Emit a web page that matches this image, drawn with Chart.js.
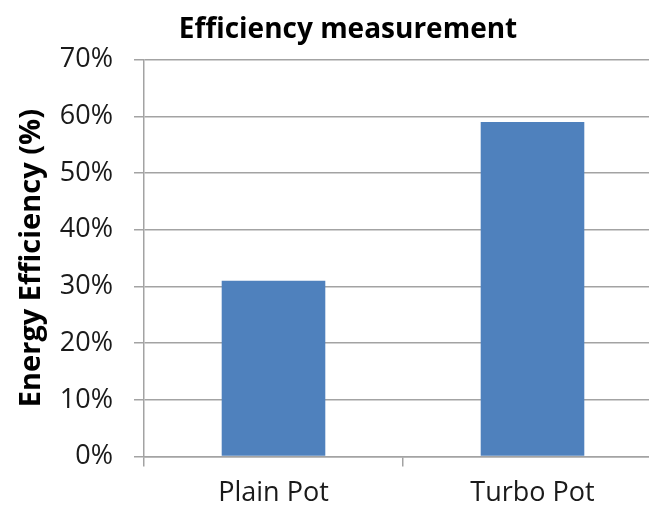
<!DOCTYPE html>
<html>
<head>
<meta charset="utf-8">
<script src="https://cdn.jsdelivr.net/npm/chart.js@4/dist/chart.umd.min.js"></script>
<style>
  html, body { margin: 0; padding: 0; background: #fff; overflow: hidden; }
  /* a bit bigger than the window: the original is cropped on the right and bottom */
  #wrap { width: 712px; height: 521px; }
</style>
</head>
<body>
<div id="wrap"><canvas id="chart"></canvas></div>
<script>
const categories = ["Plain Pot", "Turbo Pot"];
const efficiency = [31, 59];
const yTicks = [0, 10, 20, 30, 40, 50, 60, 70];

const gridColor = "#a3a3a3";

new Chart(document.getElementById("chart"), {
  type: "bar",
  data: {
    labels: categories,
    datasets: [
      {
        label: "Energy Efficiency",
        data: efficiency,
        backgroundColor: "#4f81bd",
        borderWidth: 0,
        barPercentage: 0.4,
        categoryPercentage: 1.0,
      },
    ],
  },
  options: {
    responsive: true,
    maintainAspectRatio: false,
    animation: false,
    layout: { padding: { left: 34, right: 50, top: 0, bottom: 0 } },
    scales: {
      x: {
        grid: {
          display: true,
          drawOnChartArea: false, // only the little tick marks below the axis
          drawTicks: true,
          tickLength: 10,
          color: gridColor,
          lineWidth: 1.5,
          offset: true,
        },
        border: { display: true, color: gridColor, width: 1.5 },
        ticks: {
          color: "#1a1a1a",
          font: { family: "Open Sans", size: 27 },
          padding: 11,
        },
      },
      y: {
        min: 0,
        max: 70,
        afterBuildTicks: (axis) => {
          axis.ticks = yTicks.map((v) => ({ value: v }));
        },
        grid: {
          color: gridColor,
          lineWidth: 1.5,
          tickLength: 10,
        },
        border: { display: true, color: gridColor, width: 1.5 },
        ticks: {
          color: "#1a1a1a",
          font: { family: "Open Sans", size: 27 },
          padding: 21,
          callback: (v) => v + "%",
        },
        title: {
          display: true,
          text: "Energy Efficiency (%)",
          color: "#000",
          font: { family: "Open Sans", size: 29, weight: "bold" },
          padding: { top: -20, bottom: -10 },
        },
      },
    },
    plugins: {
      legend: { display: false },
      tooltip: { enabled: false },
      title: {
        display: true,
        text: "Efficiency measurement",
        color: "#000",
        font: { family: "Open Sans", size: 28, weight: "bold" },
        padding: { top: 13, bottom: 13 },
      },
    },
  },
});
</script>
</body>
</html>
